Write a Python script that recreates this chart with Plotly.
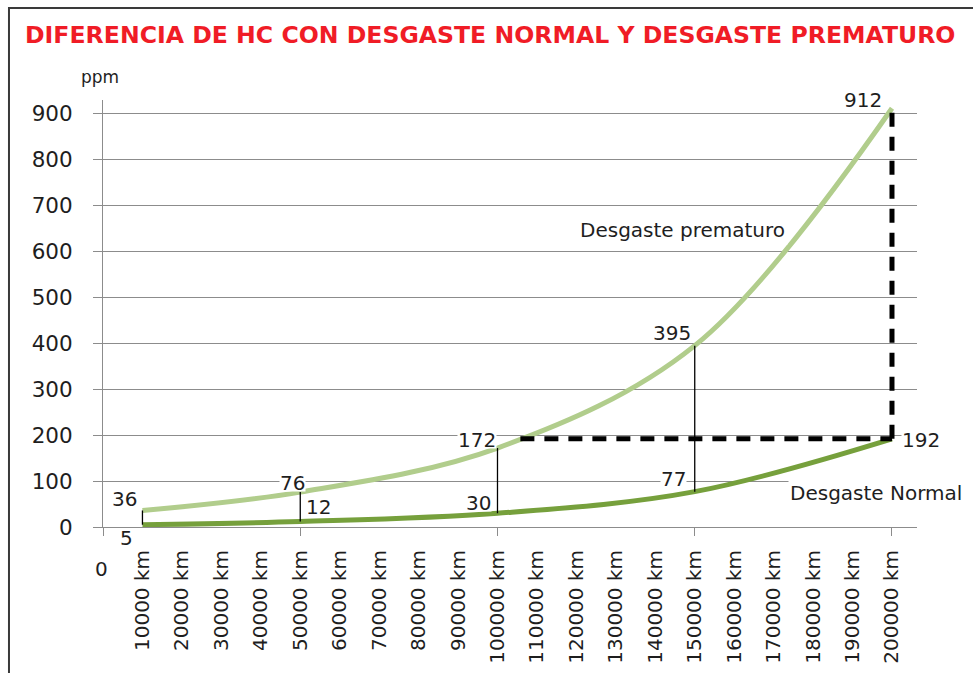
import plotly.graph_objects as go

# Kilometres at which HC was measured, and the HC readings (ppm)
km = [10000, 50000, 100000, 150000, 200000]
hc_prematuro = [36, 76, 172, 395, 912]
hc_normal = [5, 12, 30, 77, 192]

# Category labels along the bottom axis
tick_km = list(range(10000, 200001, 10000))
tick_text = [f"{v} km" for v in tick_km]
y_ticks = list(range(0, 901, 100))

# Where the horizontal comparison line starts (km)
compare_from_km = 105800

FONT = "DejaVu Sans"
TEXT = "#1e1e1e"
GRID = "#8c8c8c"
LIGHT_GREEN = "#b1cd8c"
DARK_GREEN = "#76a03c"

X_RANGE = [0, 206340]
Y_RANGE = [0, 930]

fig = go.Figure()

# thin connectors between the two readings at each measured kilometre
hl_x, hl_y = [], []
for k, n, p in zip(km[:-1], hc_normal[:-1], hc_prematuro[:-1]):
    hl_x += [k, k, None]
    hl_y += [n, p, None]
fig.add_trace(go.Scatter(x=hl_x, y=hl_y, mode="lines", xaxis="x2",
                         line=dict(color="black", width=1.3),
                         hoverinfo="skip", showlegend=False))

fig.add_trace(go.Scatter(x=km, y=hc_prematuro, mode="lines", name="Desgaste prematuro",
                         line=dict(color=LIGHT_GREEN, width=5, shape="spline"),
                         showlegend=False))
fig.add_trace(go.Scatter(x=km, y=hc_normal, mode="lines", name="Desgaste Normal",
                         line=dict(color=DARK_GREEN, width=5, shape="spline"),
                         showlegend=False))

# dashed comparison: normal level at the end vs premature level at the end
fig.add_trace(go.Scatter(
    x=[compare_from_km, km[-1], None, km[-1], km[-1]],
    y=[hc_normal[-1], hc_normal[-1], None, hc_normal[-1], hc_prematuro[-1]],
    mode="lines", line=dict(color="black", width=5, dash="14px,10px"),
    hoverinfo="skip", showlegend=False))

# value label placement: (xshift, yshift, white box behind the text)
label_offsets_prem = [(-17.5, 13.5, False), (-8, 11, True), (-20.5, 10, True),
                      (-22.8, 14.6, False), (-29, 10.3, False)]
label_offsets_norm = [(-15.5, -11.3, False), (18.7, 16.5, True), (-18.5, 12.2, True),
                      (-20.8, 14.6, True), (29, 0.8, True)]

annotations = []
for series, offsets in ((hc_prematuro, label_offsets_prem), (hc_normal, label_offsets_norm)):
    for k, v, (dx, dy, boxed) in zip(km, series, offsets):
        annotations.append(dict(
            x=k, y=v, xref="x", yref="y", text=str(v), showarrow=False,
            xshift=dx, yshift=dy - 2, xanchor="center", yanchor="middle",
            height=16, valign="middle", borderpad=0,
            font=dict(family=FONT, size=20, color=TEXT),
            bgcolor="white" if boxed else None))

annotations += [
    dict(x=147000, y=647, xref="x", yref="y", text="Desgaste prematuro",
         showarrow=False, font=dict(family=FONT, size=20, color=TEXT),
         bgcolor="white", borderpad=2),
    dict(x=195900, y=74, xref="x", yref="y", text="Desgaste Normal",
         showarrow=False, font=dict(family=FONT, size=20, color=TEXT),
         bgcolor="white", borderpad=1),
    dict(x=0.4754, y=1.152, xref="paper", yref="paper",
         text="<b>DIFERENCIA DE HC CON DESGASTE NORMAL Y DESGASTE PREMATURO</b>",
         showarrow=False, xanchor="center", yanchor="middle",
         font=dict(family=FONT, size=23.6, color="#f01c26")),
    dict(x=-0.004, y=1.055, xref="paper", yref="paper", text="ppm",
         showarrow=False, xanchor="center", yanchor="middle",
         font=dict(family=FONT, size=17, color=TEXT)),
    dict(x=0, y=-0.098, xref="x", yref="paper", text="0", xshift=-2,
         showarrow=False, xanchor="center", yanchor="middle",
         font=dict(family=FONT, size=20, color=TEXT)),
]

fig.update_layout(
    width=973, height=673,
    margin=dict(l=103, r=56, t=100, b=146, autoexpand=False),
    paper_bgcolor="white", plot_bgcolor="white",
    showlegend=False,
    annotations=annotations,
    xaxis=dict(range=X_RANGE, tickvals=tick_km, ticktext=tick_text, tickangle=-90,
               ticks="", showgrid=False, zeroline=False, showline=True,
               linecolor=GRID, linewidth=1, ticklabelstandoff=14,
               tickfont=dict(family=FONT, size=20, color=TEXT)),
    xaxis2=dict(range=X_RANGE, overlaying="x", anchor="y", side="bottom",
                tickvals=[0, 50000, 100000, 150000, 200000], ticks="outside",
                ticklen=8, tickcolor=GRID, tickwidth=1, showticklabels=False,
                showgrid=False, zeroline=False, showline=False),
    yaxis=dict(range=Y_RANGE, tickvals=y_ticks, showgrid=True, gridcolor=GRID,
               gridwidth=1, ticks="outside", ticklen=9, tickcolor=GRID,
               showline=True, linecolor=GRID, linewidth=1, zeroline=False,
               ticklabelstandoff=16,
               tickfont=dict(family=FONT, size=21.5, color=TEXT)),
    shapes=[dict(type="rect", xref="paper", yref="paper",
                 x0=-0.1155, x1=1.2, y0=-0.5, y1=1.2155,
                 line=dict(color="#3a3a3a", width=2), fillcolor="rgba(0,0,0,0)",
                 layer="above")],
)

fig.write_html("out.html")
